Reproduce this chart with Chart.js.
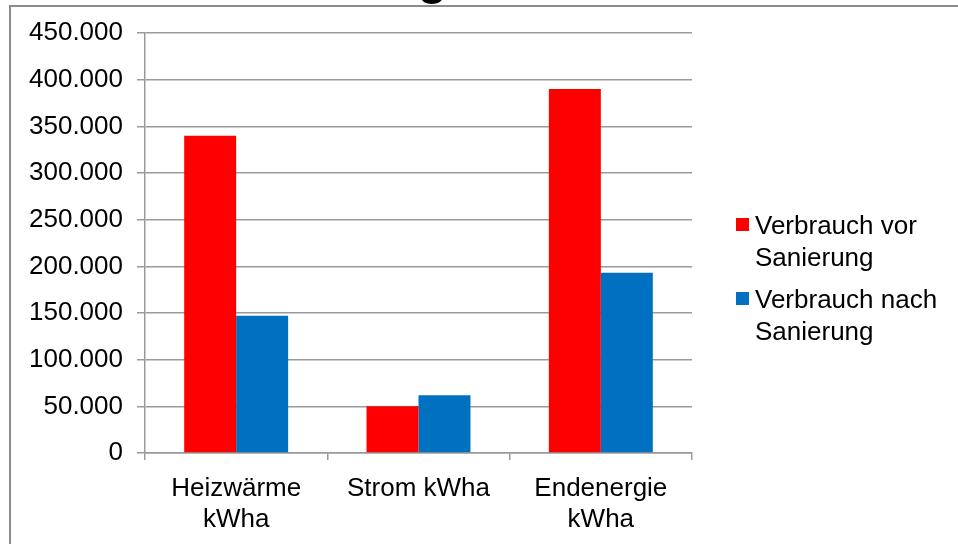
<!DOCTYPE html>
<html>
<head>
<meta charset="utf-8">
<script src="https://cdn.jsdelivr.net/npm/chart.js@4"></script>
<style>
  html, body { margin: 0; padding: 0; background: #fff; overflow: hidden; }
  #wrap { position: relative; width: 958px; height: 544px; }
  #frame { position: absolute; left: 9px; top: 5px; width: 1000px; height: 600px;
           border-top: 2px solid #8c8c8c; border-left: 2px solid #8c8c8c; }
  #chart { position: absolute; left: 0; top: 0; }
  #legend { position: absolute; left: 736px; top: 209px; width: 222px;
            font-family: "Liberation Sans", Arial, sans-serif; font-size: 26px;
            line-height: 32px; color: #000; }
  .item { display: flex; align-items: flex-start; margin-bottom: 10px; }
  .box { width: 13px; height: 13px; margin-top: 9px; margin-right: 6px; flex: none; }
  .txt { width: 196px; }
</style>
</head>
<body>
<div id="wrap">
  <div id="frame"></div>
  <canvas id="chart" width="958" height="544"></canvas>
  <div id="legend"></div>
</div>
<script>
const categories = [['Heizwärme', 'kWha'], 'Strom kWha', ['Endenergie', 'kWha']];
const seriesNames = ['Verbrauch vor Sanierung', 'Verbrauch nach Sanierung'];
const vorSanierung = [340000, 50000, 390000];
const nachSanierung = [147000, 62000, 193000];
const colors = ['#ff0000', '#0070c0'];

const fontFamily = '"Liberation Sans", Arial, sans-serif';
const gridColor = '#9a9a9a';

function formatDe(v) {
  return String(v).replace(/\B(?=(\d{3})+(?!\d))/g, '.');
}

// cut-off title at the very top of the picture
const cutTitle = {
  id: 'cutTitle',
  afterDraw(chart) {
    const ctx = chart.ctx;
    ctx.save();
    ctx.font = 'bold 48px ' + fontFamily;
    ctx.fillStyle = '#000';
    ctx.textAlign = 'right';
    ctx.textBaseline = 'alphabetic';
    ctx.fillText('Sanierung', 447, -6);
    ctx.restore();
  }
};

const chart = new Chart(document.getElementById('chart').getContext('2d'), {
  type: 'bar',
  data: {
    labels: categories,
    datasets: [
      { label: seriesNames[0], data: vorSanierung, backgroundColor: colors[0] },
      { label: seriesNames[1], data: nachSanierung, backgroundColor: colors[1] }
    ]
  },
  options: {
    responsive: false,
    animation: false,
    categoryPercentage: 0.57,
    barPercentage: 1.0,
    layout: { padding: { top: 33, right: 266, bottom: 0, left: 0 } },
    plugins: {
      legend: { display: false },
      tooltip: { enabled: false }
    },
    scales: {
      x: {
        grid: { display: true, drawOnChartArea: false, drawTicks: true, tickLength: 7,
                color: gridColor, lineWidth: 1.5, offset: true },
        border: { display: true, color: gridColor, width: 1.5 },
        ticks: { color: '#000', font: { family: fontFamily, size: 26 }, padding: 13,
                 maxRotation: 0, autoSkip: false },
        afterFit(scale) { scale.height = 91; }
      },
      y: {
        min: 0,
        max: 450000,
        grid: { color: gridColor, lineWidth: 1.5, tickLength: 8 },
        border: { display: true, color: gridColor, width: 1.5 },
        ticks: { stepSize: 50000, color: '#000', padding: 14,
                 font: { family: fontFamily, size: 26 },
                 callback: v => formatDe(v) },
        afterFit(scale) { scale.width = 145; }
      }
    }
  },
  plugins: [cutTitle]
});

// html legend with wrapped labels
const legend = document.getElementById('legend');
chart.data.datasets.forEach(ds => {
  const item = document.createElement('div');
  item.className = 'item';
  item.innerHTML = '<div class="box" style="background:' + ds.backgroundColor + '"></div>' +
                   '<div class="txt">' + ds.label + '</div>';
  legend.appendChild(item);
});
</script>
</body>
</html>
